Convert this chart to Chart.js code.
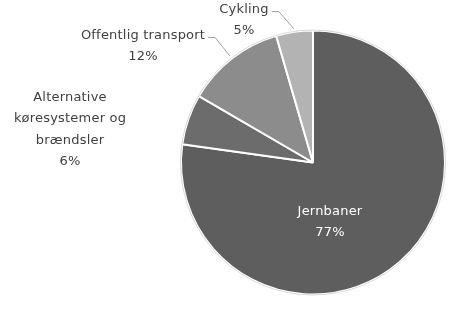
<!DOCTYPE html>
<html><head><meta charset="utf-8">
<script src="https://cdn.jsdelivr.net/npm/chart.js@4"></script>
<style>html,body{margin:0;padding:0;background:#fff}#wrap{width:453px;height:313px}</style>
</head><body><div id="wrap"><canvas id="c"></canvas></div>
<script>
const categories = ["Jernbaner", "Alternative køresystemer og brændsler", "Offentlig transport", "Cykling"];
const values = [77.2, 6.2, 12.1, 4.5];
const labelLines = [["Jernbaner"], ["Alternative", "køresystemer og", "brændsler"], ["Offentlig transport"], ["Cykling"]];
const colors = ["#5e5e5e", "#6c6c6c", "#8c8c8c", "#b3b3b3"];

// label layout (offsets relative to pie centre, px)
const layout = [
  {inside: true, dx: 17, dy: 49},
  {dx: -243, dy: -65},
  {dx: -170, dy: -127, line: true},
  {dx: -69, dy: -153, line: true}
];

const labelPlugin = {
  id: 'pieLabels',
  afterDatasetsDraw(chart) {
    const ctx = chart.ctx;
    const meta = chart.getDatasetMeta(0);
    const total = values.reduce((a, b) => a + b, 0);
    ctx.save();
    ctx.font = '13px "DejaVu Sans"';
    ctx.letterSpacing = '0.2px';
    ctx.textAlign = 'center';
    ctx.textBaseline = 'middle';
    const lh = 21.5;
    meta.data.forEach((arc, i) => {
      const p = arc.getProps(['x', 'y', 'startAngle', 'endAngle', 'outerRadius'], true);
      const L = layout[i];
      const lines = labelLines[i].concat([Math.round(values[i] / total * 100) + '%']);
      const cx = p.x + L.dx, cy = p.y + L.dy;
      ctx.fillStyle = L.inside ? '#ffffff' : '#404040';
      lines.forEach((t, k) => ctx.fillText(t, cx, cy + k * lh));
      if (L.line) {
        const mid = (p.startAngle + p.endAngle) / 2;
        const ex = p.x + Math.cos(mid) * (p.outerRadius + 3);
        const ey = p.y + Math.sin(mid) * (p.outerRadius + 3);
        const w = ctx.measureText(lines[0]).width;
        const tx = cx + w / 2 + 3;
        ctx.strokeStyle = '#a0a0a0';
        ctx.lineWidth = 1;
        ctx.beginPath();
        ctx.moveTo(ex, ey);
        ctx.lineTo(tx + 7, cy + 2);
        ctx.lineTo(tx, cy + 2);
        ctx.stroke();
      }
    });
    // faint outer outline
    const a0 = meta.data[0];
    if (a0) {
      ctx.strokeStyle = '#d8d8d8';
      ctx.lineWidth = 1;
      ctx.beginPath();
      ctx.arc(a0.x, a0.y, a0.outerRadius + 0.5, 0, Math.PI * 2);
      ctx.stroke();
    }
    ctx.restore();
  }
};

new Chart(document.getElementById('c'), {
  type: 'pie',
  data: {
    labels: categories,
    datasets: [{
      data: values,
      backgroundColor: colors,
      borderColor: '#ffffff',
      borderWidth: 2
    }]
  },
  options: {
    responsive: true,
    maintainAspectRatio: false,
    animation: false,
    radius: 132,
    layout: {padding: {left: 181, right: 8, top: 31, bottom: 19}},
    plugins: {legend: {display: false}, tooltip: {enabled: false}}
  },
  plugins: [labelPlugin]
});
</script>
</body></html>
